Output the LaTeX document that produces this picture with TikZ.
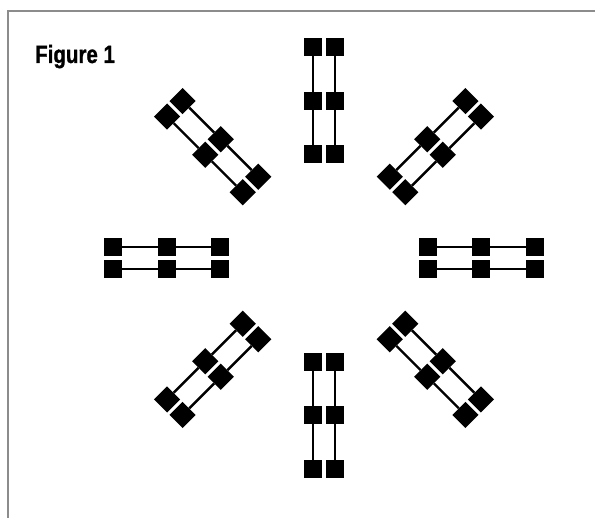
\documentclass[tikz,border=0pt]{standalone}
\usepackage{fontspec}
\setmainfont{Liberation Sans}
\newfontfamily\titlefont[FakeBold=1.2]{Liberation Sans Bold}
\begin{document}
\begin{tikzpicture}[x=1pt,y=-1pt,
  sq/.style={draw=none,fill=black,minimum size=18.5pt,inner sep=0pt,transform shape},
  bar/.style={line width=2.4pt,black},
  frame/.style={line width=2pt,draw=black!45}]
\useasboundingbox (0,0) rectangle (595,518);
\draw[frame] (8,518) -- (8,11) -- (595,11);
\node[anchor=base west,inner sep=0pt] (title) at (35,63) {\scalebox{0.82}[1]{\fontsize{25}{25}\selectfont\titlefont Figure 1}};
\foreach \ang in {0,45,...,315}{
 \begin{scope}[shift={(324,258)},rotate=\ang]
   \foreach \d/\k in {104/1,157/2,211/3}{
     \node[sq] (s\ang-\k-a) at (\d,-11) {};
     \node[sq] (s\ang-\k-b) at (\d,11) {};
   }
   \draw[bar] (s\ang-1-a)--(s\ang-2-a)--(s\ang-3-a) (s\ang-1-b)--(s\ang-2-b)--(s\ang-3-b);
 \end{scope}
}
\end{tikzpicture}
\end{document}
